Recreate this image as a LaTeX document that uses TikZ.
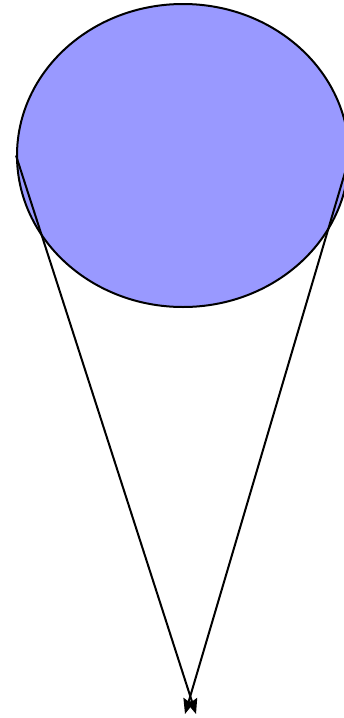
\documentclass[tikz,border=0pt]{standalone}
\usetikzlibrary{shapes.geometric,arrows.meta}
\definecolor{fillblue}{HTML}{9999FF}
\begin{document}
\begin{tikzpicture}[x=1pt,y=-1pt,
  blob/.style={ellipse,draw=black,fill=fillblue,line width=2pt,minimum width=332pt,minimum height=303pt,inner sep=0pt},
  conn/.style={draw=black,line width=2pt,-{Stealth[length=15pt,width=12pt,inset=2pt]}}]
\useasboundingbox (0,0) rectangle (343,718);
\node[blob] (e) at (183,155.5) {};
\coordinate (tl) at (196,714);
\coordinate (tr) at (185,714);
\draw[conn] (e.west) -- (tl);
\draw[conn] (e.east) -- (tr);
\end{tikzpicture}
\end{document}
